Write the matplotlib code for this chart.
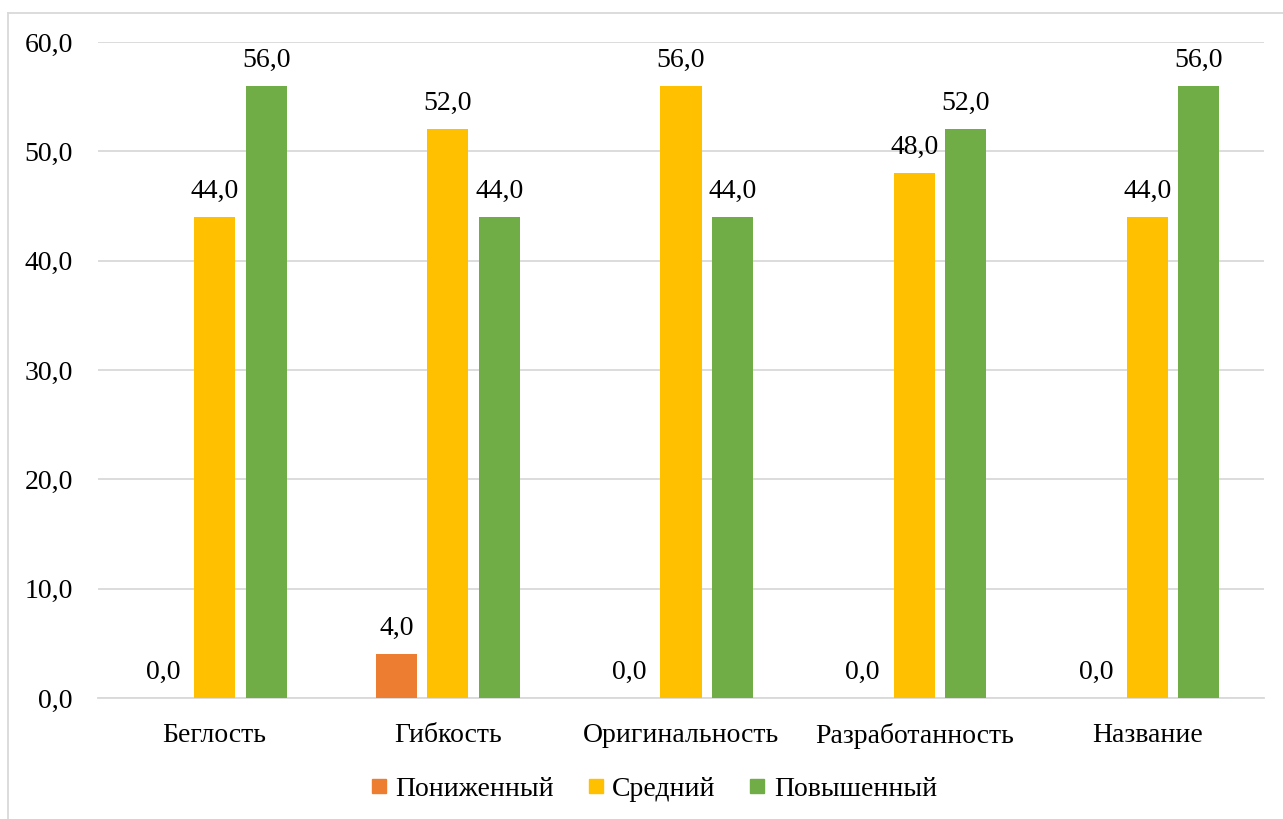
import matplotlib.pyplot as plt
import numpy as np
from matplotlib.lines import Line2D

# Data
categories = ['Беглость', 'Гибкость', 'Оригинальность', 'Разработанность', 'Название']
series_names = ['Пониженный', 'Средний', 'Повышенный']
low = [0.0, 4.0, 0.0, 0.0, 0.0]
mid = [44.0, 52.0, 56.0, 48.0, 44.0]
high = [56.0, 44.0, 44.0, 52.0, 56.0]
colors = ['#ED7D31', '#FFC000', '#70AD47']

plt.rcParams['font.family'] = ['Liberation Serif', 'DejaVu Serif']

fig = plt.figure(figsize=(12.83, 8.19), dpi=100)
W, H = 1283, 819
ax = fig.add_axes([98 / W, 1 - 698 / H, (1264 - 98) / W, (698 - 42) / H])

x = np.arange(len(categories))
width = 0.176
step = 0.221
for i, (vals, col) in enumerate(zip([low, mid, high], colors)):
    pos = x + (i - 1) * step
    ax.bar(pos, vals, width=width, color=col, zorder=3)
    for px, v in zip(pos, vals):
        ax.text(px, v + 1.2, f'{v:.1f}'.replace('.', ','), ha='center', va='bottom',
                fontsize=20, color='#000000')

ax.set_xlim(-0.5, len(categories) - 0.5)
ax.set_ylim(0, 60)
ax.set_yticks(np.arange(0, 61, 10))
ax.set_yticklabels([f'{t:.1f}'.replace('.', ',') for t in np.arange(0, 61, 10)], fontsize=20)
ax.set_xticks(x)
ax.set_xticklabels(categories, fontsize=20)
ax.tick_params(axis='y', length=0, pad=18)
ax.tick_params(axis='x', length=0, pad=18)
ax.grid(axis='y', color='#D9D9D9', linewidth=1.3, zorder=0)
for s in ['top', 'right', 'left']:
    ax.spines[s].set_visible(False)
ax.spines['bottom'].set_color('#D9D9D9')
ax.spines['bottom'].set_linewidth(1.3)

# chart-area border (cropped at the right and bottom)
fig.add_artist(Line2D([8 / W, 1.0], [1 - 13 / H, 1 - 13 / H], color='#D9D9D9', lw=1.3))
fig.add_artist(Line2D([8 / W, 8 / W], [0.0, 1 - 13 / H], color='#D9D9D9', lw=1.3))

handles = [Line2D([], [], marker='s', linestyle='none', markersize=10,
                  markerfacecolor=c, markeredgecolor=c) for c in colors]
fig.legend(handles, series_names, loc='center', bbox_to_anchor=(653 / W, 1 - 789 / H),
           ncol=3, frameon=False, fontsize=20, handletextpad=0.25, columnspacing=1.15,
           handlelength=0.7)

fig.savefig('out.png', dpi=100, facecolor='white')
